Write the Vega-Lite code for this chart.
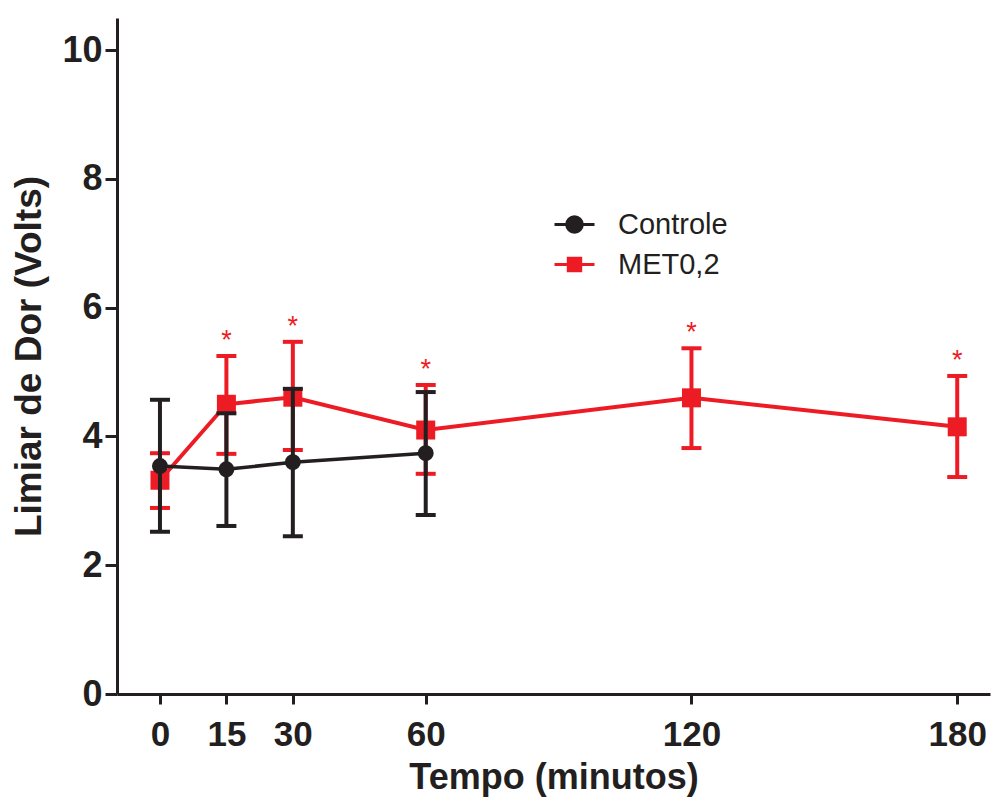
{
  "$schema": "https://vega.github.io/schema/vega-lite/v6.json",
  "width": 873,
  "height": 676,
  "autosize": {"type": "none"},
  "padding": {"left": 117, "top": 18, "right": 2, "bottom": 104},
  "background": "white",
  "config": {
    "view": {"stroke": null},
    "axis": {"grid": false, "domainColor": "#231f20", "tickColor": "#231f20", "labelColor": "#231f20", "titleColor": "#231f20", "labelFont": "Liberation Sans", "titleFont": "Liberation Sans", "labelFontWeight": "bold", "titleFontWeight": "bold"}
  },
  "data": {
    "values": [
      {"s": "MET0,2", "t": 0, "m": 3.32, "lo": 2.89, "hi": 3.74, "sig": ""},
      {"s": "MET0,2", "t": 15, "m": 4.50, "lo": 3.73, "hi": 5.25, "sig": "*"},
      {"s": "MET0,2", "t": 30, "m": 4.61, "lo": 3.79, "hi": 5.47, "sig": "*"},
      {"s": "MET0,2", "t": 60, "m": 4.10, "lo": 3.42, "hi": 4.80, "sig": "*"},
      {"s": "MET0,2", "t": 120, "m": 4.60, "lo": 3.82, "hi": 5.37, "sig": "*"},
      {"s": "MET0,2", "t": 180, "m": 4.15, "lo": 3.37, "hi": 4.94, "sig": "*"},
      {"s": "Controle", "t": 0, "m": 3.54, "lo": 2.52, "hi": 4.57, "sig": ""},
      {"s": "Controle", "t": 15, "m": 3.49, "lo": 2.61, "hi": 4.36, "sig": ""},
      {"s": "Controle", "t": 30, "m": 3.60, "lo": 2.45, "hi": 4.74, "sig": ""},
      {"s": "Controle", "t": 60, "m": 3.74, "lo": 2.78, "hi": 4.69, "sig": ""}
    ]
  },
  "encoding": {
    "x": {
      "field": "t", "type": "quantitative",
      "scale": {"domain": [-9.7, 187.4], "nice": false, "zero": false},
      "axis": {"values": [0, 15, 30, 60, 120, 180], "title": "Tempo (minutos)", "labelFontSize": 35, "titleFontSize": 36, "tickSize": 10, "tickWidth": 3, "domainWidth": 3, "labelPadding": 13, "titlePadding": 8, "labelFlush": false}
    },
    "y": {
      "field": "m", "type": "quantitative",
      "scale": {"domain": [0, 10.5], "nice": false},
      "axis": {"values": [0, 2, 4, 6, 8, 10], "title": "Limiar de Dor (Volts)", "labelFontSize": 36, "titleFontSize": 37, "tickSize": 12, "tickWidth": 3, "domainWidth": 3, "labelPadding": 3, "titlePadding": 13}
    },
    "color": {
      "field": "s", "type": "nominal",
      "scale": {"domain": ["Controle", "MET0,2"], "range": ["#231f20", "#ed1c24"]},
      "legend": {
        "title": null, "orient": "none", "legendX": 436, "legendY": 185, "padding": 0,
        "symbolSize": 1600, "symbolStrokeWidth": 3, "labelFont": "Liberation Sans", "labelFontSize": 29, "labelColor": "#231f20", "labelOffset": 22, "rowPadding": 3,
        "encode": {
          "symbols": {
            "update": {
              "shape": {"signal": "datum.value === 'Controle' ? 'M-1,0H1M-0.39,0A0.39,0.39,0,1,0,0.39,0A0.39,0.39,0,1,0,-0.39,0Z' : 'M-1,0H1M-0.31,-0.31H0.31V0.31H-0.31Z'"},
              "stroke": {"signal": "scale('color', datum.value)"},
              "fill": {"signal": "scale('color', datum.value)"},
              "strokeWidth": {"value": 3},
              "opacity": {"value": 1}
            }
          }
        }
      }
    }
  },
  "layer": [
    {
      "transform": [{"filter": "datum.s === 'MET0,2'"}],
      "layer": [
        {"mark": {"type": "line", "strokeWidth": 4}},
        {"mark": {"type": "rule", "strokeWidth": 4}, "encoding": {"y": {"field": "lo", "type": "quantitative"}, "y2": {"field": "hi"}}},
        {"mark": {"type": "tick", "orient": "horizontal", "size": 20, "thickness": 4, "opacity": 1}, "encoding": {"y": {"field": "lo", "type": "quantitative"}}},
        {"mark": {"type": "tick", "orient": "horizontal", "size": 20, "thickness": 4, "opacity": 1}, "encoding": {"y": {"field": "hi", "type": "quantitative"}}},
        {"mark": {"type": "point", "shape": "square", "filled": true, "size": 361, "opacity": 1}},
        {"transform": [{"filter": "datum.sig === '*'"}], "mark": {"type": "text", "font": "Liberation Sans", "fontSize": 27, "baseline": "alphabetic", "dy": -7, "color": "#ed1c24"}, "encoding": {"y": {"field": "hi", "type": "quantitative"}, "text": {"field": "sig"}, "color": {"value": "#ed1c24"}}}
      ]
    },
    {
      "transform": [{"filter": "datum.s === 'Controle'"}],
      "layer": [
        {"mark": {"type": "line", "strokeWidth": 3.5}},
        {"mark": {"type": "rule", "strokeWidth": 4}, "encoding": {"y": {"field": "lo", "type": "quantitative"}, "y2": {"field": "hi"}}},
        {"mark": {"type": "tick", "orient": "horizontal", "size": 20, "thickness": 4, "opacity": 1}, "encoding": {"y": {"field": "lo", "type": "quantitative"}}},
        {"mark": {"type": "tick", "orient": "horizontal", "size": 20, "thickness": 4, "opacity": 1}, "encoding": {"y": {"field": "hi", "type": "quantitative"}}},
        {"mark": {"type": "point", "shape": "circle", "filled": true, "size": 254, "opacity": 1}}
      ]
    }
  ]
}
